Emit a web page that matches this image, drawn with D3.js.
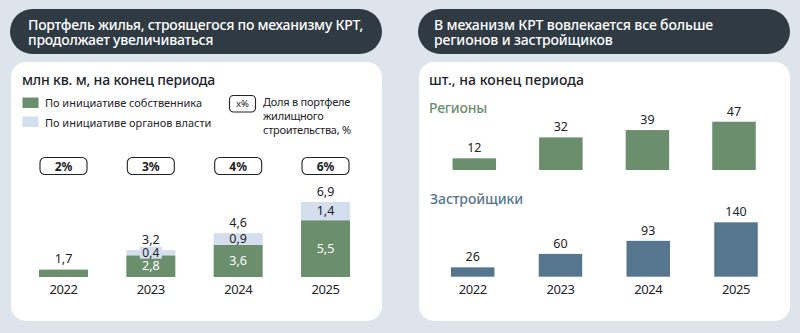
<!DOCTYPE html>
<html><head><meta charset="utf-8">
<script src="https://cdn.jsdelivr.net/npm/d3@7"></script>
<style>
html,body{margin:0;padding:0;background:#dde4eb;}
svg{display:block;font-family:"Noto Sans",sans-serif;}
</style></head>
<body>
<svg id="c" width="800" height="333"></svg>
<script>
// ---------- data ----------
const years = ["2022","2023","2024","2025"];
const ownerInit = [1.7, 2.8, 3.6, 5.5];      // По инициативе собственника
const authInit  = [0,   0.4, 0.9, 1.4];      // По инициативе органов власти
const totals    = ["1,7","3,2","4,6","6,9"];
const ownerLabels = [null, "2,8", "3,6", "5,5"];
const authLabels  = [null, "0,4", "0,9", "1,4"];
const shares    = ["2%","3%","4%","6%"];
const regions   = [12, 32, 39, 47];
const developers = [26, 60, 93, 140];

const C = {bg:"#dde4eb", pill:"#2f3a43", card:"#ffffff", green:"#6b8f6d", light:"#d3deee",
           blue:"#567690", text:"#1e2328"};

const svg = d3.select("#c");
svg.append("rect").attr("width",800).attr("height",333).attr("fill",C.bg);

// widen text to a target width by letter-spacing (keeps font size)
function fit(sel, w){
  const n = sel.node(); const l = n.getComputedTextLength();
  const k = sel.text().length;
  if(l>0 && k>1) sel.attr("letter-spacing", ((w-l)/k).toFixed(3));
  return sel;
}
function txt(x,y,s,fs,opt={}){
  const t = svg.append("text").attr("x",x).attr("y",y).text(s).attr("font-size",fs)
    .attr("fill",opt.fill||C.text).attr("font-weight",opt.fw||400)
    .attr("text-anchor",opt.anchor||"start");
  if(opt.ls!=null) t.attr("letter-spacing",opt.ls);
  if(opt.w) fit(t,opt.w);
  return t;
}

// ---------- panels ----------
[[10,382],[418,790]].forEach(([x0,x1])=>{
  svg.append("rect").attr("x",x0).attr("y",9).attr("width",x1-x0).attr("height",45)
    .attr("rx",22.5).attr("fill",C.pill);
  svg.append("rect").attr("x",x0+1).attr("y",62).attr("width",x1-x0-1).attr("height",259)
    .attr("rx",15).attr("fill",C.card);
});

// titles
const t1 = txt(28,29.5,"Портфель жилья, строящегося по механизму КРТ,",14,{fill:"#fff",fw:500,w:335});
txt(28,44.5,"продолжает увеличиваться",14,{fill:"#fff",fw:500,ls:t1.attr("letter-spacing")});
const t2 = txt(434,29.5,"В механизм КРТ вовлекается все больше",14,{fill:"#fff",fw:500,w:279});
txt(434,44.5,"регионов и застройщиков",14,{fill:"#fff",fw:500,ls:t2.attr("letter-spacing")});

// subtitles
txt(22,84.5,"млн кв. м, на конец периода",14,{fw:500,w:193});
txt(429,84.5,"шт., на конец периода",14,{fw:500,w:155});

// legend
svg.append("rect").attr("x",22.5).attr("y",97.5).attr("width",16).attr("height",10.5).attr("fill",C.green);
svg.append("rect").attr("x",22.5).attr("y",116.5).attr("width",16).attr("height",10.5).attr("fill",C.light);
const lg1 = txt(45,107,"По инициативе собственника",11,{w:157});
txt(45,126.5,"По инициативе органов власти",11,{ls:lg1.attr("letter-spacing")});
svg.append("rect").attr("x",229.5).attr("y",95.5).attr("width",26).attr("height",16.5).attr("rx",4)
  .attr("fill","none").attr("stroke",C.text).attr("stroke-width",1.1);
txt(242.5,107,"x%",9.5,{anchor:"middle"});
const d1 = txt(263,105.5,"Доля в портфеле",11,{w:87});
txt(263,120,"жилищного",11,{ls:d1.attr("letter-spacing")});
txt(263,134,"строительства, %",11,{ls:d1.attr("letter-spacing")});

// ---------- left chart ----------
const xL = d3.scalePoint().domain(years).range([63.5,325.5]);
const yL = d3.scaleLinear().domain([1.13,6.9]).range([277,202]).clamp(true);
const bwL = 49;
const rows = years.map((y,i)=>({year:y, owner:ownerInit[i], auth:authInit[i]}));
const stack = d3.stack().keys(["owner","auth"])(rows);
const colors = {owner:C.green, auth:C.light};
const gL = svg.append("g");
stack.forEach(layer=>{
  gL.selectAll(null).data(layer.filter(d=>d[1]-d[0]>0)).join("rect")
    .attr("x",d=>xL(d.data.year)-bwL/2).attr("width",bwL)
    .attr("y",d=>yL(d[1])).attr("height",d=>yL(d[0])-yL(d[1]))
    .attr("fill",colors[layer.key]);
});
// share boxes
years.forEach((y,i)=>{
  svg.append("rect").attr("x",xL(y)-23.5).attr("y",157.5).attr("width",47).attr("height",17)
    .attr("rx",5).attr("fill","#fff").attr("stroke",C.text).attr("stroke-width",1.1);
  txt(xL(y),170.5,shares[i],12,{anchor:"middle",fw:700});
});
// labels
rows.forEach((d,i)=>{
  const top = yL(d.owner+d.auth);
  txt(xL(d.year), top-6.5, totals[i], 12.5, {anchor:"middle"});
  if(ownerLabels[i]) txt(xL(d.year), (yL(0)+yL(d.owner))/2+4.3, ownerLabels[i], 12.5, {anchor:"middle",fill:"#fff"});
  if(authLabels[i]){
    const cy = (yL(d.owner)+yL(d.owner+d.auth))/2;
    const small = yL(d.owner)-yL(d.owner+d.auth) < 10;
    if(small){
      svg.append("rect").attr("x",xL(d.year)-11).attr("y",cy-6).attr("width",22).attr("height",12).attr("fill",C.light);
    }
    txt(xL(d.year), cy+4.2, authLabels[i], small?12:12.5, {anchor:"middle"});
  }
});
years.forEach(y=>txt(xL(y),293.5,y,13,{anchor:"middle",w:28}));

// ---------- right chart ----------
txt(429,113,"Регионы",14,{fill:C.green,fw:500,w:58});
txt(430,204,"Застройщики",14,{fill:C.blue,fw:500,w:93});

const xR = d3.scalePoint().domain(years).range([474.3,734]);
const xD = d3.scalePoint().domain(years).range([472.7,736]);
const yR = d3.scaleLinear().domain([0.81,47]).range([170,121.7]);
const yD = d3.scaleLinear().domain([2.3,140]).range([276.7,222.3]);
const bwR = 43.5;
svg.append("g").selectAll("rect").data(regions).join("rect")
  .attr("x",(d,i)=>xR(years[i])-bwR/2).attr("width",bwR)
  .attr("y",d=>yR(d)).attr("height",d=>yR(0.81)-yR(d)).attr("fill",C.green);
regions.forEach((d,i)=>txt(xR(years[i]),yR(d)-6,String(d),12.5,{anchor:"middle"}));
svg.append("g").selectAll("rect").data(developers).join("rect")
  .attr("x",(d,i)=>xD(years[i])-bwR/2).attr("width",bwR)
  .attr("y",d=>yD(d)).attr("height",d=>yD(2.3)-yD(d)).attr("fill",C.blue);
developers.forEach((d,i)=>txt(xD(years[i]),yD(d)-6,String(d),12.5,{anchor:"middle"}));
years.forEach(y=>txt(xD(y),293.5,y,13,{anchor:"middle",w:28}));
</script>
</body></html>
